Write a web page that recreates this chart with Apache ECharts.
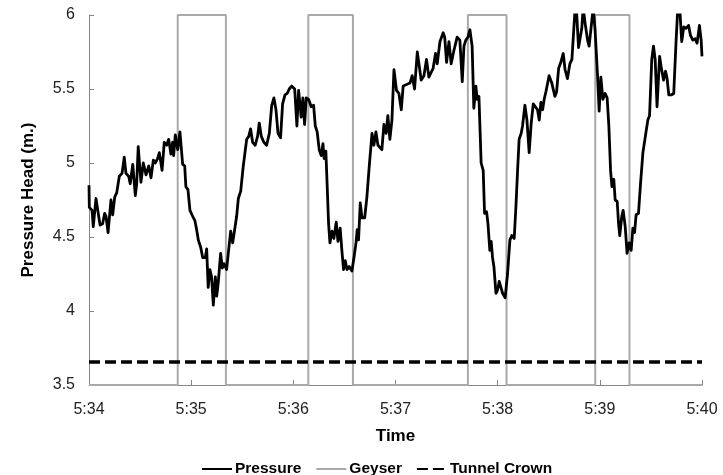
<!DOCTYPE html>
<html>
<head>
<meta charset="utf-8">
<script src="https://cdn.jsdelivr.net/npm/echarts@6/dist/echarts.min.js"></script>
<style>
html,body{margin:0;padding:0;background:#fff;}
#chart{width:723px;height:475px;}
</style>
</head>
<body>
<div id="chart"></div>
<script>
// X tick labels (one per minute, starting 5:34)
const xTickLabels = ['5:34','5:35','5:36','5:37','5:38','5:39','5:40'];
// Pressure: time in seconds after 5:34, head in m
const pressureTime = [0,0.2,1.8,2.5,4.1,5.1,6.5,8.0,9.2,10.0,11.2,12.9,13.9,15.1,16.3,17.8,19.4,20.7,21.7,23.3,24.2,25.7,27.2,28.0,28.9,30.5,31.9,33.5,35.1,36.4,37.8,38.9,40.3,41.3,42.9,44.2,45.6,46.8,48.1,49.1,49.7,50.7,51.5,52.1,53.4,55.0,56.2,56.9,58.1,59.3,
60.9,62.2,63.2,64.2,65.6,66.8,68.3,69.1,70.0,71.0,72.0,73.0,74.2,75.0,75.9,77.3,78.3,79.3,80.8,81.8,83.2,84.4,85.5,86.7,87.7,89.1,90.6,92.6,93.8,94.9,96.1,97.6,99.0,100.0,101.2,102.7,104.3,105.9,107.3,108.6,109.8,111.0,112.5,113.7,115.1,116.4,117.6,119.0,119.9,
120.8,122.1,123.1,124.6,125.6,126.6,127.6,129.0,130.5,131.9,132.9,134.0,135.2,136.4,137.4,138.1,139.1,139.9,140.7,141.5,142.7,143.8,145.2,146.2,147.5,148.5,149.5,150.5,151.5,152.8,154.4,155.6,156.8,157.5,158.3,159.3,160.3,161.9,163.2,164.6,166.2,167.3,168.5,169.7,170.8,172.0,173.2,174.5,175.5,176.7,177.9,179.1,
180.6,182.0,183.4,184.5,186.5,188.5,189.8,191.2,192.8,193.7,195.1,196.7,198.2,199.6,202.1,203.5,204.5,206.1,208.0,208.9,210.0,211.4,212.7,214.3,216.2,217.8,219.2,220.2,221.3,222.5,223.7,225.0,226.0,227.2,228.0,229.0,230.3,231.5,232.3,233.5,234.3,235.4,236.2,237.0,237.8,239.0,239.9,
240.9,241.9,242.9,244.4,245.8,247.2,248.3,249.7,250.7,251.7,252.6,253.8,254.6,256.0,257.2,258.5,259.7,260.9,262.0,263.4,264.4,265.4,266.4,267.3,268.3,269.3,270.2,271.8,273.6,274.6,275.8,277.1,278.5,279.6,281.0,282.4,283.6,284.6,285.5,286.3,287.5,288.4,289.4,290.2,291.4,292.8,293.7,295.1,296.1,297.2,298.7,299.6,
300.6,301.8,303.1,304.3,305.3,306.3,307.1,308.2,309.0,310.2,311.0,311.7,312.9,313.7,314.9,316.0,317.2,318.4,319.4,320.4,321.3,322.7,323.9,325.3,326.6,328.2,329.2,330.5,331.5,332.5,333.6,335.1,336.0,337.4,338.6,339.5,340.5,341.9,343.4,344.8,345.8,347.0,348.1,349.3,350.6,352.1,353.3,354.6,356.0,357.1,358.5,359.5,360];
const pressureHead = [4.85,4.70,4.68,4.57,4.76,4.77,4.58,4.59,4.66,4.64,4.53,4.75,4.65,4.77,4.80,4.91,4.93,5.04,4.93,4.91,4.86,4.99,4.78,4.86,5.11,4.87,5.00,4.92,4.98,4.90,5.02,5.00,5.03,5.07,4.95,5.14,5.12,5.16,5.06,5.14,5.05,5.19,5.19,5.09,5.21,4.99,4.98,4.84,4.82,4.68,
4.64,4.61,4.55,4.48,4.43,4.36,4.36,4.42,4.16,4.28,4.23,4.04,4.23,4.10,4.19,4.39,4.29,4.32,4.28,4.39,4.54,4.46,4.45,4.64,4.76,4.81,4.98,5.16,5.18,5.23,5.14,5.12,5.18,5.27,5.18,5.14,5.12,5.20,5.39,5.44,5.36,5.20,5.17,5.40,5.46,5.47,5.50,5.52,5.53,
5.50,5.25,5.49,5.31,5.44,5.26,5.44,5.43,5.38,5.39,5.25,5.21,5.09,5.05,5.13,5.03,5.08,4.84,4.59,4.46,4.54,4.49,4.60,4.47,4.56,4.41,4.28,4.34,4.28,4.30,4.27,4.36,4.46,4.55,4.48,4.73,4.63,4.63,4.77,4.98,5.20,5.12,5.21,5.12,5.13,5.09,5.26,5.20,5.32,5.16,5.29,5.63,
5.49,5.47,5.36,5.52,5.53,5.54,5.59,5.50,5.75,5.76,5.56,5.59,5.70,5.58,5.64,5.74,5.67,5.82,5.88,5.85,5.68,5.82,5.67,5.76,5.85,5.83,5.55,5.79,5.83,5.85,5.90,5.79,5.37,5.52,5.43,5.45,5.00,4.95,4.66,4.67,4.59,4.41,4.47,4.36,4.30,4.12,4.14,
4.20,4.19,4.12,4.09,4.25,4.48,4.51,4.49,4.70,4.95,5.16,5.20,5.25,5.39,5.29,5.07,5.27,5.40,5.40,5.36,5.29,5.41,5.36,5.43,5.48,5.47,5.59,5.54,5.45,5.48,5.64,5.68,5.74,5.63,5.57,5.67,5.70,5.71,6.05,6.03,5.78,5.78,5.91,6.05,5.94,5.83,5.79,5.94,6.05,5.90,5.58,5.35,
5.58,5.43,5.47,5.44,5.25,4.95,4.84,4.89,4.75,4.74,4.59,4.51,4.64,4.68,4.57,4.39,4.46,4.41,4.56,4.53,4.65,4.66,4.86,5.07,5.17,5.29,5.32,5.70,5.79,5.70,5.38,5.72,5.65,5.56,5.62,5.57,5.46,5.46,5.47,5.83,6.05,6.03,5.82,5.92,5.91,5.93,5.86,5.83,5.84,5.81,5.93,5.83,5.72];
// Geyser windows: start / end (seconds after 5:34)
const geyserStart = [52.1, 128.8, 222.5, 297.3];
const geyserEnd   = [80.4, 155.0, 245.2, 317.4];
const geyserLow = 3.5, geyserHigh = 6;
// Tunnel crown elevation (m)
const tunnelCrown = 3.655;
const timeMax = 360;

const pressureData = pressureTime.map((t, i) => [t, pressureHead[i]]);
const geyserData = [[0, geyserLow]];
geyserStart.forEach((s, i) => {
  geyserData.push([s, geyserLow], [s, geyserHigh], [geyserEnd[i], geyserHigh], [geyserEnd[i], geyserLow]);
});
geyserData.push([timeMax, geyserLow]);
const crownData = [[0, tunnelCrown], [timeMax, tunnelCrown]];

const chart = echarts.init(document.getElementById('chart'), null, {renderer: 'canvas'});
const axisFont = 'Liberation Sans, Arial, sans-serif';
chart.setOption({
  animation: false,
  backgroundColor: '#ffffff',
  grid: {left: 89, right: 21, top: 15, bottom: 90},
  xAxis: {
    type: 'value', min: 0, max: timeMax, interval: 60,
    name: 'Time', nameLocation: 'middle', nameGap: 43,
    nameTextStyle: {fontFamily: axisFont, fontWeight: 'bold', fontSize: 17, color: '#000'},
    axisLine: {show: true, lineStyle: {color: '#868686', width: 1}},
    axisTick: {show: true, inside: true, length: 5, lineStyle: {color: '#868686'}},
    axisLabel: {fontFamily: axisFont, fontSize: 16, color: '#222', margin: 17,
      formatter: v => xTickLabels[Math.round(v / 60)]},
    splitLine: {show: false}
  },
  yAxis: {
    type: 'value', min: 3.5, max: 6, interval: 0.5,
    name: 'Pressure Head (m.)', nameLocation: 'middle', nameGap: 52,
    nameTextStyle: {fontFamily: axisFont, fontWeight: 'bold', fontSize: 17, color: '#000'},
    axisLine: {show: true, lineStyle: {color: '#868686', width: 1}},
    axisTick: {show: true, inside: true, length: 5, lineStyle: {color: '#868686'}},
    axisLabel: {fontFamily: axisFont, fontSize: 16, color: '#222', margin: 14},
    splitLine: {show: false}
  },
  legend: {
    left: 196, top: 456, itemWidth: 30, itemHeight: 14, itemGap: 14,
    itemStyle: {opacity: 0},
    textStyle: {fontFamily: axisFont, fontWeight: 'bold', fontSize: 15.5, color: '#000', padding: [0,0,0,-2]},
    data: ['Pressure', 'Geyser', 'Tunnel Crown']
  },
  series: [
    {name: 'Geyser', type: 'line', data: geyserData, symbol: 'none', clip: false,
     lineStyle: {color: '#a9a9a9', width: 2}, itemStyle: {color: '#a9a9a9'}, z: 2},
    {name: 'Tunnel Crown', type: 'line', data: crownData, symbol: 'none',
     lineStyle: {color: '#000', width: 3.5, type: [11, 5]}, itemStyle: {color: '#000'}, z: 3},
    {name: 'Pressure', type: 'line', data: pressureData, symbol: 'none', clip: true,
     lineStyle: {color: '#000', width: 2.8, join: 'round'}, itemStyle: {color: '#000'}, z: 4}
  ]
});
</script>
</body>
</html>
